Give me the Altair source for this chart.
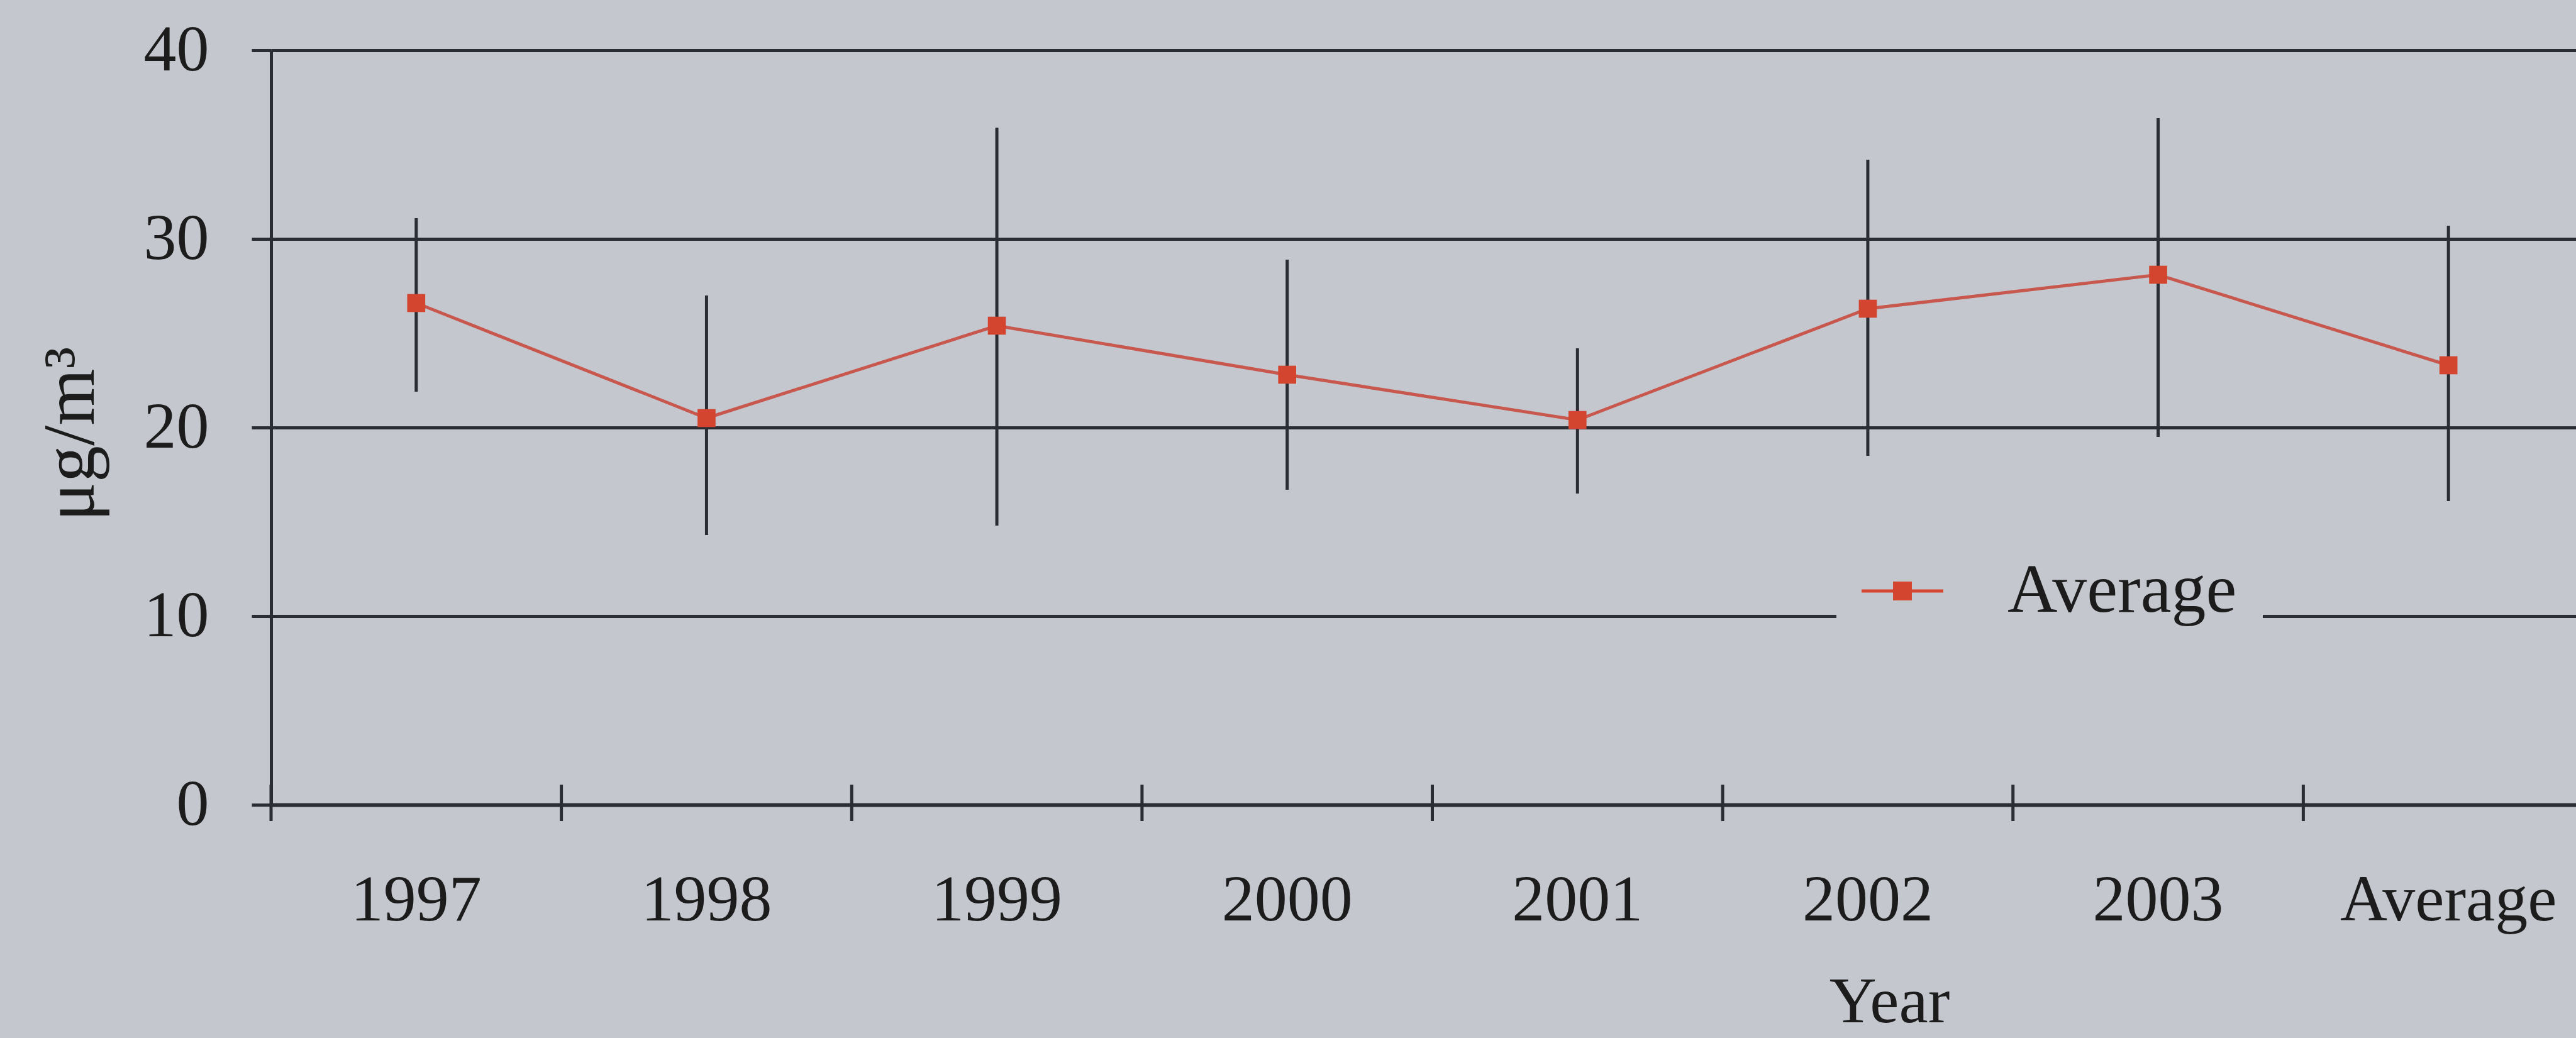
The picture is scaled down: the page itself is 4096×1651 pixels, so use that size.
import altair as alt
import pandas as pd

# Yearly PM concentrations (µg/m³): mean with min/max range
years = ["1997", "1998", "1999", "2000", "2001", "2002", "2003", "Average"]
mean_vals = [26.6, 20.5, 25.4, 22.8, 20.4, 26.3, 28.1, 23.3]
low_vals = [21.9, 14.3, 14.8, 16.7, 16.5, 18.5, 19.5, 16.1]
high_vals = [31.1, 27.0, 35.9, 28.9, 24.2, 34.2, 36.4, 30.7]
series_name = ["Average"] * len(years)

df = pd.DataFrame({
    "year": years,
    "mean": mean_vals,
    "low": low_vals,
    "high": high_vals,
    "series": series_name,
})

BG = "#c4c7ce"
INK = "#2a2d33"
LINE_RED = "#c8574d"
MARK_RED = "#d4452f"
FONT = "Liberation Serif"

W, H = 3665, 1200
LEFT, TOP = 431, 80

x_enc = alt.X(
    "year:N",
    sort=years,
    scale=alt.Scale(domain=years, range=[0, 3693], paddingInner=0, paddingOuter=0),
    axis=alt.Axis(
        title="Year",
        titleFont=FONT, titleFontSize=104, titleFontWeight="normal", titleColor="#1c1c1c",
        titleX=2573, titleY=345, titleBaseline="alphabetic", titleAlign="center",
        labelFont=FONT, labelFontSize=104, labelColor="#1c1c1c", labelLimit=0,
        labelAngle=0, labelAlign="center", labelBaseline="alphabetic", labelPadding=183,
        ticks=False, tickSize=0, domainColor=INK, domainWidth=6,
        grid=False, labelOverlap=False,
    ),
)

y_scale = alt.Scale(domain=[0, 40], nice=False, zero=True)
y_axis = alt.Axis(
    title="μg/m³",
    titleFont=FONT, titleFontSize=116, titleFontWeight="normal", titleColor="#1c1c1c",
    titleAngle=270, titleX=-318, titleY=610, titleAlign="center", titleBaseline="middle",
    titleLimit=0,
    values=[0, 10, 20, 30, 40],
    labelFont=FONT, labelFontSize=104, labelColor="#1c1c1c", labelPadding=68, labelLimit=0,
    tickSize=31, tickColor=INK, tickWidth=5,
    domainColor=INK, domainWidth=5,
    grid=True, gridColor=INK, gridWidth=5, gridOpacity=1,
)

base = alt.Chart(df)

# category boundary ticks crossing the x axis
bounds = base.mark_rule(color=INK, strokeWidth=5).encode(
    x=alt.X("year:N", sort=years, bandPosition=0),
    y=alt.value(H - 32),
    y2=alt.value(H + 26),
)

# min-max ranges
ranges = base.mark_rule(color=INK, strokeWidth=5).encode(
    x=x_enc,
    y=alt.Y("low:Q", scale=y_scale, axis=y_axis),
    y2="high:Q",
)

line = base.mark_line(color=LINE_RED, strokeWidth=5).encode(
    x=alt.X("year:N", sort=years),
    y=alt.Y("mean:Q"),
)

legend_symbol = (
    "M-1,-0.04L1,-0.04L1,0.04L-1,0.04Z "
    "M-0.23,-0.23L0.23,-0.23L0.23,0.23L-0.23,0.23Z"
)

points = base.mark_point(shape="square", filled=True, size=820, opacity=1).encode(
    x=alt.X("year:N", sort=years),
    y=alt.Y("mean:Q"),
    color=alt.Color(
        "series:N",
        scale=alt.Scale(domain=["Average"], range=[MARK_RED]),
        legend=alt.Legend(
            title=None, orient="none", legendX=2489, legendY=755,
            padding=40, fillColor=BG, strokeColor=BG,
            symbolType=legend_symbol, symbolSize=16900, symbolStrokeWidth=0,
            labelFont=FONT, labelFontSize=110, labelColor="#1c1c1c", labelOffset=102,
            labelLimit=0,
        ),
    ),
)

chart = (
    alt.layer(bounds, ranges, line, points)
    .properties(
        width=W,
        height=H,
        autosize=alt.AutoSizeParams(type="none"),
        padding={"left": LEFT, "top": TOP, "right": 0, "bottom": 1651 - TOP - H},
        background=BG,
    )
    .configure_view(strokeWidth=0)
)

chart.save("out.html", embed_options={"renderer": "svg", "actions": False})
